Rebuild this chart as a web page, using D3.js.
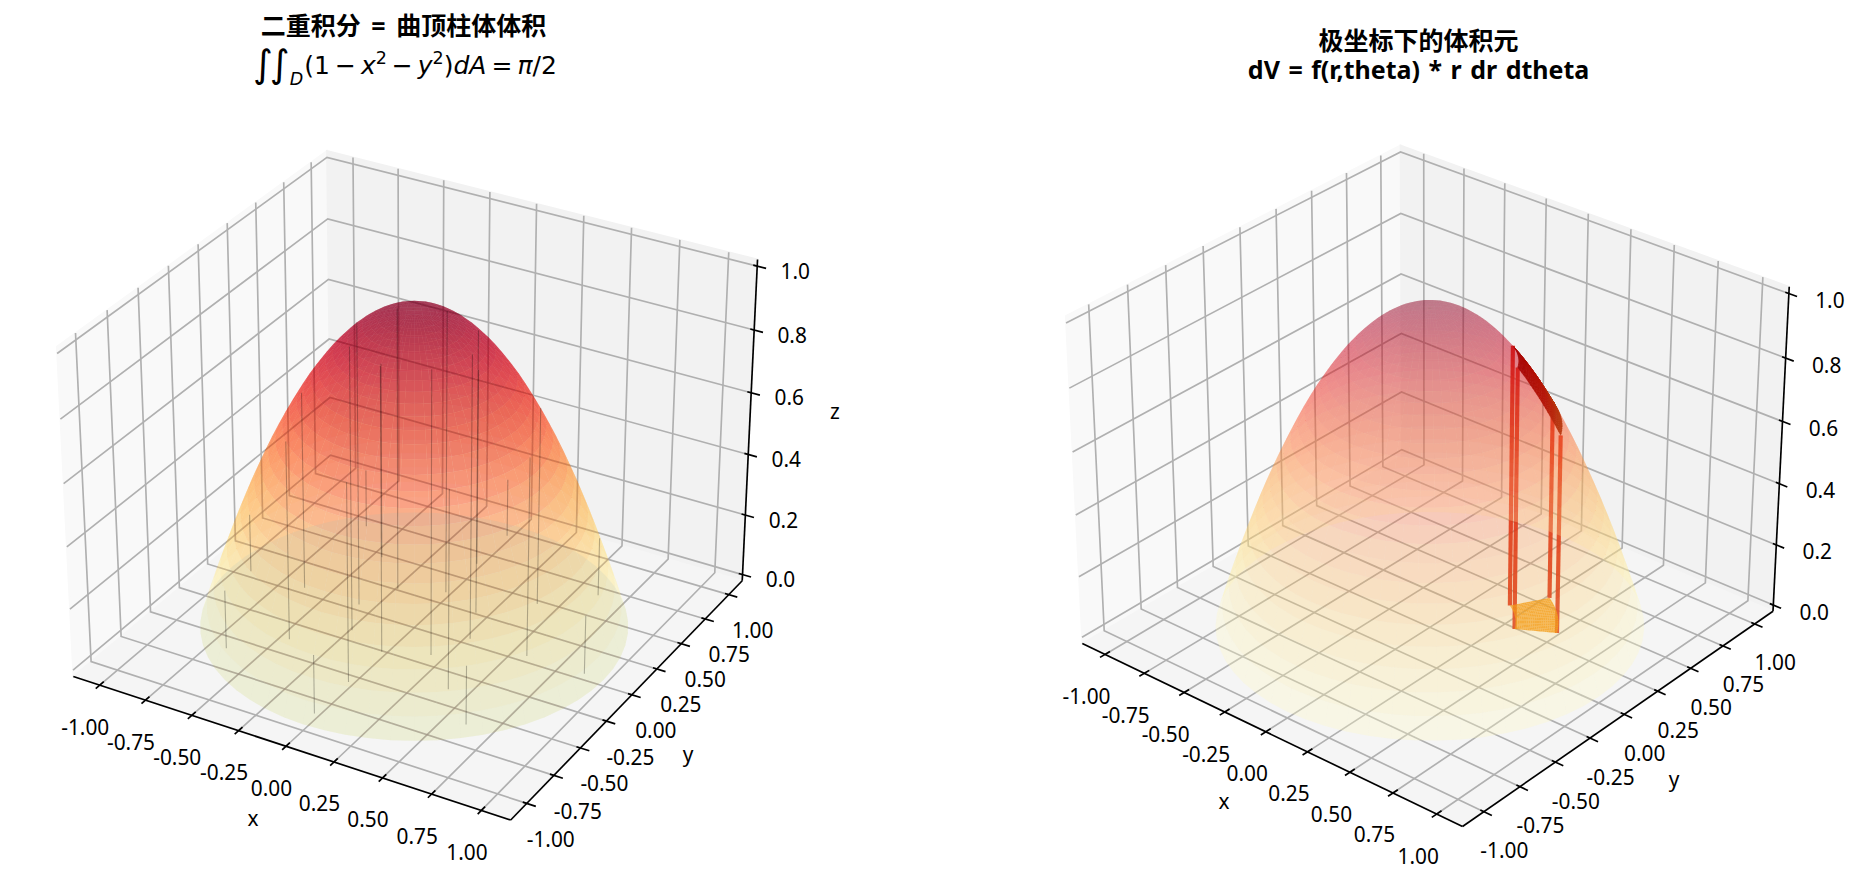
<!DOCTYPE html>
<html lang="zh">
<head>
<meta charset="utf-8">
<title>二重积分与极坐标体积元</title>
<style>
  html, body { margin: 0; background: #fff; }
  svg { display: block; }
  text { font-family: "Noto Sans", "Noto Sans CJK SC", sans-serif; fill: #000; }
  .title { font-family: "Noto Sans", "Noto Sans CJK SC", sans-serif; font-weight: 700; font-size: 25px; }
  .math { font-family: "DejaVu Sans", sans-serif; font-size: 25px; }
</style>
</head>
<body>
<svg id="figure" width="1859" height="883" viewBox="0 0 1859 883"></svg>
<script src="https://cdn.jsdelivr.net/npm/d3@7"></script>
<script>
// Axis ticks
const xyTicks = [-1, -0.75, -0.5, -0.25, 0, 0.25, 0.5, 0.75, 1];
const zTicks = [0, 0.2, 0.4, 0.6, 0.8, 1];

// Radial profile of the dome: ring radius and surface height at that radius
const ringRadii = [0, 0.0333, 0.0667, 0.1, 0.1333, 0.1667, 0.2, 0.2333, 0.2667, 0.3, 0.3333,
  0.3667, 0.4, 0.4333, 0.4667, 0.5, 0.5333, 0.5667, 0.6, 0.6333, 0.6667, 0.7, 0.7333,
  0.7667, 0.8, 0.8333, 0.8667, 0.9, 0.9333, 0.9667, 1];
const ringHeights = [1, 0.9989, 0.9956, 0.99, 0.9822, 0.9722, 0.96, 0.9456, 0.9289, 0.91, 0.8889,
  0.8656, 0.84, 0.8122, 0.7822, 0.75, 0.7156, 0.6789, 0.64, 0.5989, 0.5556, 0.51, 0.4622,
  0.4122, 0.36, 0.3056, 0.2489, 0.19, 0.1289, 0.0656, 0];
const sectorCount = 60;

// Sample columns under the dome on a polar grid
const columnRadii = [0.3, 0.6, 0.9];
const columnHeights = [0.91, 0.64, 0.19];
const columnAngles = [0, 45, 90, 135, 180, 225, 270, 315];

// Polar volume element: radial span, angular span (degrees), height of each radial edge
const elementRadii = [0.4, 0.6];
const elementAngles = [30, 60];
const elementHeights = [0.84, 0.64];
const elementMesh = 20;

// YlOrRd colour stops
const ylOrRd = ["#ffffcc", "#ffeda0", "#fed976", "#feb24c", "#fd8d3c", "#fc4e2a", "#e31a1c", "#bd0026", "#800026"];

const svg = d3.select("#figure");
const rad = d => d * Math.PI / 180;
const colour = d3.scaleLinear().domain(ylOrRd.map((_, i) => i / (ylOrRd.length - 1))).range(ylOrRd);

// Builds a perspective camera for one 3D panel: world -> unit box -> screen.
function makeView({ elev, azim, half, zoom, cx, cy }) {
  const k = 1.8294640721620434 * 25 / 24 / Math.hypot(4, 4, 3);
  const box = [4 * k, 4 * k, 3 * k];
  const sx = d3.scaleLinear([-half, half], [0, box[0]]);
  const sy = d3.scaleLinear([-half, half], [0, box[1]]);
  const sz = d3.scaleLinear([0, 1], [0, box[2]]);
  const el = rad(elev), az = rad(azim);
  const w = [Math.cos(el) * Math.cos(az), Math.cos(el) * Math.sin(az), Math.sin(el)];
  const eye = [box[0] / 2 + 10 * w[0], box[1] / 2 + 10 * w[1], box[2] / 2 + 10 * w[2]];
  const n = Math.hypot(w[0], w[1]);
  const u = [-w[1] / n, w[0] / n, 0];
  const v = [w[1] * u[2] - w[2] * u[1], w[2] * u[0] - w[0] * u[2], w[0] * u[1] - w[1] * u[0]];
  const dot = (a, b) => a[0] * b[0] + a[1] * b[1] + a[2] * b[2];
  const rel = p => [sx(p[0]) - eye[0], sy(p[1]) - eye[1], sz(p[2]) - eye[2]];
  const depth = p => -dot(rel(p), w);
  const project = p => {
    const d = rel(p), z = -dot(d, w);
    return [cx + zoom * dot(d, u) / z, cy - zoom * dot(d, v) / z];
  };
  return { project, depth };
}

const polar = (r, deg, z) => [r * Math.cos(rad(deg)), r * Math.sin(rad(deg)), z];
const line = d3.line();

// The pane gridlines of one panel, as 3D polylines
function gridPolylines(half) {
  const P = half * (1 + 1 / 24), lo = -1 / 48, hi = 1 + 1 / 48;
  return [
    ...xyTicks.map(t => [[t, -P, lo], [t, P, lo], [t, P, hi]]),
    ...xyTicks.map(t => [[P, t, lo], [-P, t, lo], [-P, t, hi]]),
    ...zTicks.map(t => [[-P, -P, t], [-P, P, t], [P, P, t]])
  ];
}

// Walls, floor, gridlines, axis lines, ticks and their labels
function drawFrame(g, view, opt) {
  const P = opt.half * (1 + 1 / 24), lo = -1 / 48, hi = 1 + 1 / 48;
  const path = (pts, closed) => line(pts.map(view.project)) + (closed ? "Z" : "");
  const panes = [
    { pts: [[-P, -P, lo], [-P, P, lo], [-P, P, hi], [-P, -P, hi]], fill: "#f9f9f9" },
    { pts: [[-P, P, lo], [P, P, lo], [P, P, hi], [-P, P, hi]], fill: "#f2f2f2" },
    { pts: [[-P, -P, lo], [P, -P, lo], [P, P, lo], [-P, P, lo]], fill: "#f5f5f5" }
  ];
  g.append("g").selectAll("path").data(panes).join("path")
    .attr("d", d => path(d.pts, true))
    .attr("fill", d => d.fill)
    .attr("stroke", d => d.fill).attr("stroke-width", 1.67);

  g.append("g").selectAll("path").data(gridPolylines(opt.half)).join("path")
    .attr("d", d => path(d, false))
    .attr("fill", "none").attr("stroke", "#b0b0b0").attr("stroke-width", 1.67);

  const axisLines = [
    [[-P, -P, lo], [P, -P, lo]],
    [[P, -P, lo], [P, P, lo]],
    [[P, P, lo], [P, P, hi]]
  ];
  const tickMarks = [
    ...xyTicks.map(t => [[t, -P + 0.033, lo], [t, -P - 0.033, lo]]),
    ...xyTicks.map(t => [[P - 0.02, t, lo], [P + 0.045, t, lo]]),
    ...zTicks.map(t => [[P - 0.02, P, t], [P + 0.045, P, t]])
  ];
  g.append("g").selectAll("path").data([...axisLines, ...tickMarks]).join("path")
    .attr("d", d => path(d, false))
    .attr("fill", "none").attr("stroke", "#000").attr("stroke-width", 1.67);

  const labels = [
    ...xyTicks.map(t => ({ at: [t, -P, lo], off: opt.xOffset, text: d3.format(".2f")(t) })),
    ...xyTicks.map(t => ({ at: [P, t, lo], off: opt.yOffset, text: d3.format(".2f")(t) })),
    ...zTicks.map(t => ({ at: [P, P, t], off: opt.zOffset, text: d3.format(".1f")(t) }))
  ];
  g.append("g").selectAll("text").data(labels).join("text")
    .attr("x", d => view.project(d.at)[0] + d.off[0])
    .attr("y", d => view.project(d.at)[1] + d.off[1])
    .attr("text-anchor", "middle").attr("dy", "0.36em")
    .attr("font-size", 20.83)
    .text(d => d.text.replace("\u2212", "-"));

  g.append("g").selectAll("text").data(opt.axisTitles).join("text")
    .attr("x", d => d.pos[0]).attr("y", d => d.pos[1])
    .attr("text-anchor", "middle").attr("dy", "0.36em")
    .attr("font-size", 20.83)
    .text(d => d.label);
}

// Patches of the dome in back-to-front order
function domeCells(view) {
  const cells = [];
  d3.range(ringRadii.length - 1).forEach(i => {
    d3.range(sectorCount).forEach(j => {
      const a0 = j * 360 / sectorCount, a1 = (j + 1) * 360 / sectorCount;
      const pts = [
        polar(ringRadii[i], a0, ringHeights[i]), polar(ringRadii[i + 1], a0, ringHeights[i + 1]),
        polar(ringRadii[i + 1], a1, ringHeights[i + 1]), polar(ringRadii[i], a1, ringHeights[i])
      ];
      cells.push({
        d: line(pts.map(view.project)) + "Z",
        z: (ringHeights[i] + ringHeights[i + 1]) / 2,
        depth: d3.mean(pts, view.depth)
      });
    });
  });
  return cells.sort((a, b) => b.depth - a.depth);
}

function drawDome(g, cells, alphaAt) {
  g.append("g").selectAll("path").data(cells).join("path")
    .attr("d", d => d.d)
    .attr("fill", d => colour(d.z))
    .attr("fill-opacity", d => alphaAt(d.z));
}

// Integration region D: a translucent disc on the floor under the dome
function drawRegion(g, view) {
  const rim = d3.range(sectorCount).map(j => polar(1, j * 360 / sectorCount, 0));
  g.append("path")
    .attr("d", line(rim.map(view.project)) + "Z")
    .attr("fill", "#b0c48c").attr("fill-opacity", 0.17);
}

// Gridlines seen through the dome, clipped to its outline
function drawGridThroughDome(g, view, cells, half) {
  const clip = g.append("clipPath").attr("id", "dome-outline");
  clip.selectAll("path").data(cells).join("path").attr("d", d => d.d);
  g.append("g").attr("clip-path", "url(#dome-outline)")
    .selectAll("path").data(gridPolylines(half)).join("path")
    .attr("d", d => line(d.map(view.project)))
    .attr("fill", "none").attr("stroke", "#400818").attr("stroke-opacity", 0.12).attr("stroke-width", 1.67);
}

// Thin vertical columns from the floor up to the surface
function drawColumns(g, view) {
  const columns = columnRadii.flatMap((r, i) => columnAngles.map(a => ({ r, a, z: columnHeights[i] })));
  g.append("g").selectAll("path").data(columns).join("path")
    .attr("d", d => line([polar(d.r, d.a, 0), polar(d.r, d.a, d.z)].map(view.project)))
    .attr("stroke", "#000").attr("stroke-opacity", 0.27).attr("stroke-width", 1.1).attr("fill", "none");
}

// Corner edges of the polar volume element
function drawElementEdges(g, view) {
  const edges = elementRadii.flatMap((r, i) => elementAngles.map(a => ({ r, a, z: elementHeights[i] })));
  g.append("g").selectAll("path").data(edges).join("path")
    .attr("d", d => line([polar(d.r, d.a, 0), polar(d.r, d.a, d.z)].map(view.project)))
    .attr("stroke", "#d4200f").attr("stroke-opacity", 0.92).attr("stroke-width", 4.17).attr("fill", "none");
}

// Floor and cap patches of the volume element
function drawElementPatches(g, view) {
  const [r0, r1] = elementRadii, [a0, a1] = elementAngles;
  const rAt = d3.scaleLinear([0, elementMesh], [r0, r1]);
  const aAt = d3.scaleLinear([0, elementMesh], [a0, a1]);
  const curve = r => {
    const t = (r - r0) / (r1 - r0);
    return elementHeights[0] + (elementHeights[1] - elementHeights[0]) * (t * (t * 0.2 + 0.8));
  };
  const floor = [], cap = [];
  d3.range(elementMesh).forEach(i => d3.range(elementMesh).forEach(j => {
    const ra = rAt(i), rb = rAt(i + 1), aa = aAt(j), ab = aAt(j + 1);
    floor.push([polar(ra, aa, 0), polar(rb, aa, 0), polar(rb, ab, 0), polar(ra, ab, 0)]);
    cap.push({
      pts: [polar(ra, aa, curve(ra)), polar(rb, aa, curve(rb)), polar(rb, ab, curve(rb)), polar(ra, ab, curve(ra))],
      t: (i + 0.5) / elementMesh
    });
  }));
  g.append("g").selectAll("path").data(floor).join("path")
    .attr("d", d => line(d.map(view.project)) + "Z")
    .attr("fill", "#f49f1c").attr("fill-opacity", 0.82);
  const capColour = d3.scaleLinear([0, 0.6, 1], ["#a80808", "#b31408", "#b83c12"]);
  g.append("g").selectAll("path").data(cap).join("path")
    .attr("d", d => line(d.pts.map(view.project)) + "Z")
    .attr("fill", d => capColour(d.t)).attr("stroke", d => capColour(d.t)).attr("stroke-width", 0.4);
}

// Typesets the integral title from flowed tspans
function drawIntegralTitle(x, y) {
  const t = svg.append("text").attr("class", "math").attr("x", x).attr("y", y).attr("text-anchor", "middle");
  const run = (s, attrs = {}) => {
    const sp = t.append("tspan").text(s);
    Object.entries(attrs).forEach(([k, v]) => sp.attr(k, v));
  };
  const it = { "font-style": "italic" };
  run("\u222B", { "font-size": 38, dy: 3 });
  run("\u222B", { "font-size": 38, dx: -3 });
  run("D", { ...it, "font-size": 17.5, dy: 8, dx: 0 });
  run("(1", { dy: -11, dx: 1 });
  run("\u2212", { dx: 5 });
  run("x", { ...it, dx: 5 });
  run("2", { "font-size": 17.5, dy: -10 });
  run("\u2212", { dy: 10, dx: 5 });
  run("y", { ...it, dx: 5 });
  run("2", { "font-size": 17.5, dy: -10 });
  run(")", { dy: 10 });
  run("dA", it);
  run("=", { dx: 5 });
  run("\u03C0", { ...it, dx: 5 });
  run("/2");
}

const panels = [
  {
    view: { elev: 30, azim: -60, half: 1.1, zoom: 4039, cx: 414.2, cy: 468.7 },
    alphaAt: d3.scaleLinear([0, 0.15, 0.5, 1], [0.27, 0.38, 0.5, 0.55]),
    xOffset: [-14.5, 42], yOffset: [24, 36], zOffset: [38, 5],
    axisTitles: [{ label: "x", pos: [253, 819] }, { label: "y", pos: [688, 755] }, { label: "z", pos: [835, 412] }]
  },
  {
    view: { elev: 30, azim: -50, half: 1.1, zoom: 4045, cx: 1429.9, cy: 468.1 },
    alphaAt: () => 0.3,
    xOffset: [-18.5, 42], yOffset: [20.5, 39], zOffset: [41, 7],
    axisTitles: [{ label: "x", pos: [1224, 802] }, { label: "y", pos: [1674, 780] }]
  }
];

panels.forEach((p, i) => {
  const view = makeView(p.view);
  const g = svg.append("g");
  const cells = domeCells(view);
  drawFrame(g, view, { ...p, half: p.view.half });
  if (i === 1) drawElementEdges(g, view);
  drawDome(g, cells, p.alphaAt);
  if (i === 0) {
    drawRegion(g, view);
    drawGridThroughDome(g, view, cells, p.view.half);
    drawColumns(g, view);
  }
  if (i === 1) drawElementPatches(g, view);
});

svg.append("text").attr("class", "title").attr("x", 403.5).attr("y", 35).attr("text-anchor", "middle")
  .attr("word-spacing", 4).text("二重积分 = 曲顶柱体体积");
drawIntegralTitle(405, 74);
const rightTitle = svg.append("text").attr("class", "title").attr("text-anchor", "middle");
rightTitle.append("tspan").attr("x", 1418.6).attr("y", 50).text("极坐标下的体积元");
rightTitle.append("tspan").attr("x", 1418.6).attr("y", 79).attr("word-spacing", 2).text("dV = f(r,theta) * r dr dtheta");
</script>
</body>
</html>
